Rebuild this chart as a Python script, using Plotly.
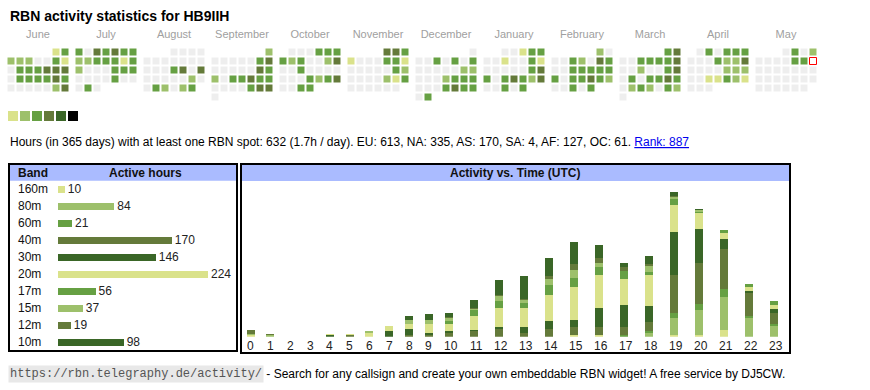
import datetime
import plotly.graph_objects as go

W, H = 870, 390
SANS = "Liberation Sans, Arial, sans-serif"
MONO = "Liberation Mono, Courier New, monospace"

# ---------------- data ----------------
TITLE = "RBN activity statistics for HB9IIH"
month_names = ["June", "July", "August", "September", "October", "November",
               "December", "January", "February", "March", "April", "May"]
month_years = [2024, 2024, 2024, 2024, 2024, 2024, 2024, 2025, 2025, 2025, 2025, 2025]
month_numbers = [6, 7, 8, 9, 10, 11, 12, 1, 2, 3, 4, 5]

# activity level per day (0 = none, 1..5 = colour level, T = today)
days_jun = "13" "2220031" "0333444" "0333343" "0000024"
days_jul = "3043433" "2233313" "2000333" "0000300" "030"
days_aug = "0000" "0000000" "0003404" "0000020" "032023"
days_sep = "2" "0000034" "0000043" "2033433" "0000344" "0"
days_oct = "000333" "3230024" "0030000" "0003234" "0033"
days_nov = "443" "1000331" "0000032" "0000213" "000000"
days_dec = "0" "0030303" "0000022" "0002333" "0003433" "03"
days_jan = "00133" "0010031" "0000034" "3034324" "00303"
days_feb = "20" "0032043" "0033333" "3033432" "00303"
days_mar = "34" "0033334" "0020034" "0303343" "0232032" "0"
days_apr = "030333" "0003224" "0000222" "0011321" "000"
days_may = "0302" "000033T" "0000000" "0000000" "000000"
month_days = [days_jun, days_jul, days_aug, days_sep, days_oct, days_nov,
              days_dec, days_jan, days_feb, days_mar, days_apr, days_may]

level_colors = ["#eeeeee", "#dae28b", "#9dc06b", "#66a043", "#647a3a", "#3a6627", "#000000"]
legend_levels = [1, 2, 3, 4, 5, 6]

INFO = ("Hours (in 365 days) with at least one RBN spot: 632 (1.7h / day). "
        "EU: 613, NA: 335, AS: 170, SA: 4, AF: 127, OC: 61. ")
RANK = "Rank: 887"

bands = ["160m", "80m", "60m", "40m", "30m", "20m", "17m", "15m", "12m", "10m"]
band_hours = [10, 84, 21, 170, 146, 224, 56, 37, 19, 98]
band_levels = [1, 2, 3, 4, 5, 1, 3, 2, 4, 5]

hour_labels = [str(h) for h in range(24)]
hours_by_band = {
    "160m": [1, 0, 0, 0, 0, 0, 0, 0, 0, 0, 0, 0, 0, 0, 0, 1, 1, 0, 0, 1, 1, 5, 0, 0],
    "80m":  [1, 1, 0, 0, 0, 0, 0, 0, 0, 0, 0, 0, 0, 0, 0, 0, 0, 0, 3, 13, 19, 25, 14, 8],
    "60m":  [0, 0, 0, 0, 0, 0, 0, 0, 0, 0, 0, 0, 0, 0, 0, 0, 0, 1, 1, 4, 5, 6, 2, 2],
    "40m":  [3, 1, 0, 0, 0, 1, 0, 0, 1, 1, 3, 4, 6, 3, 6, 6, 6, 6, 7, 29, 31, 31, 17, 8],
    "30m":  [0, 0, 0, 0, 1, 0, 0, 4, 5, 2, 1, 1, 1, 4, 6, 6, 15, 17, 12, 33, 26, 7, 2, 3],
    "20m":  [0, 0, 0, 0, 1, 1, 3, 4, 4, 7, 6, 11, 15, 15, 20, 25, 25, 20, 24, 20, 12, 5, 3, 3],
    "17m":  [0, 0, 0, 0, 0, 0, 0, 0, 0, 0, 2, 4, 5, 4, 7, 7, 6, 6, 2, 5, 1, 2, 2, 3],
    "15m":  [0, 0, 0, 0, 0, 0, 1, 0, 3, 3, 2, 1, 4, 2, 5, 6, 3, 0, 5, 1, 1, 0, 0, 0],
    "12m":  [0, 0, 0, 0, 0, 0, 0, 0, 0, 0, 1, 1, 1, 1, 2, 4, 4, 3, 1, 1, 0, 0, 0, 0],
    "10m":  [0, 0, 0, 0, 0, 0, 0, 0, 3, 4, 3, 6, 11, 17, 14, 17, 10, 3, 6, 3, 1, 0, 0, 0],
}

FOOT_URL = "https://rbn.telegraphy.de/activity/"
FOOT_TEXT = " - Search for any callsign and create your own embeddable RBN widget! A free service by DJ5CW."


# ---------------- helpers ----------------
def px(x):
    return x / W


def py(y):
    return 1 - y / H


# ---------------- calendar (pixel axes) ----------------
X0, Y0, BLOCK, PITCH = 11, 52, 68, 9
cx, cy, ccol, clc, clw = [], [], [], [], []
for m, (yr, mo, s) in enumerate(zip(month_years, month_numbers, month_days)):
    first = datetime.date(yr, mo, 1).weekday()
    for d, ch in enumerate(s):
        idx = first + d
        cx.append(X0 + m * BLOCK + (idx % 7) * PITCH)
        cy.append(Y0 + (idx // 7) * PITCH)
        if ch == "T":
            ccol.append("#ffffff")
            clc.append("#ff0000")
            clw.append(1)
        else:
            ccol.append(level_colors[int(ch)])
            clc.append("rgba(0,0,0,0)")
            clw.append(0)

fig = go.Figure()
fig.add_trace(go.Scatter(
    x=cx, y=cy, mode="markers", xaxis="x", yaxis="y", hoverinfo="skip",
    marker=dict(symbol="square", size=7, color=ccol, line=dict(color=clc, width=clw)),
    showlegend=False))

fig.add_trace(go.Scatter(
    x=[X0 + m * BLOCK + 3 * PITCH for m in range(len(month_names))],
    y=[35] * len(month_names), text=month_names, mode="text",
    textfont=dict(family=SANS, size=11, color="#a0a0a0"),
    xaxis="x", yaxis="y", hoverinfo="skip", showlegend=False))

fig.add_trace(go.Scatter(
    x=[13 + 12 * i for i in range(len(legend_levels))], y=[116] * len(legend_levels),
    mode="markers", xaxis="x", yaxis="y", hoverinfo="skip", showlegend=False,
    marker=dict(symbol="square", size=10, color=[level_colors[l] for l in legend_levels],
                line=dict(width=0))))

# ---------------- band table bars ----------------
fig.add_trace(go.Bar(
    x=band_hours, y=list(range(len(bands))), orientation="h", xaxis="x2", yaxis="y2",
    width=0.41, marker=dict(color=[level_colors[l] for l in band_levels], line=dict(width=0)),
    text=[str(v) for v in band_hours], textposition="outside", constraintext="none",
    textfont=dict(family=SANS, size=12, color="#222222"), cliponaxis=False,
    hoverinfo="skip", showlegend=False))

# ---------------- activity vs time ----------------
cell_w = [19.8 if len(l) == 1 else 25.0 for l in hour_labels]
lefts = []
acc = 240.7
for w in cell_w:
    lefts.append(acc)
    acc += w
bar_x = [l + 9.9 for l in lefts]
label_x = [l + w / 2 for l, w in zip(lefts, cell_w)]

for b, lev in zip(bands, band_levels):
    fig.add_trace(go.Bar(
        x=bar_x, y=hours_by_band[b], width=8, xaxis="x3", yaxis="y3",
        marker=dict(color=level_colors[lev], line=dict(width=0)),
        hoverinfo="skip", showlegend=False))

PX_PER_UNIT = 1.315
BASE = 336.7
TOP3 = 181

# ---------------- layout ----------------
ax_off = dict(visible=False, fixedrange=True)
fig.update_layout(
    width=W, height=H, margin=dict(l=0, r=0, t=0, b=0),
    paper_bgcolor="white", plot_bgcolor="rgba(0,0,0,0)",
    barmode="stack", bargap=0,
    xaxis=dict(domain=[0, 1], range=[0, W], **ax_off),
    yaxis=dict(domain=[0, 1], range=[H, 0], anchor="x", **ax_off),
    xaxis2=dict(domain=[px(58), px(208)], range=[0, max(band_hours)], anchor="y2", **ax_off),
    yaxis2=dict(domain=[py(350.8), py(180.8)], range=[len(bands) - 0.5, -0.5], anchor="x2", **ax_off),
    xaxis3=dict(domain=[0, 1], range=[0, W], anchor="y3", **ax_off),
    yaxis3=dict(domain=[py(BASE), py(TOP3)], range=[0, (BASE - TOP3) / PX_PER_UNIT], anchor="x3", **ax_off),
)

shapes = [
    dict(type="rect", xref="paper", yref="paper", x0=px(10), x1=px(237), y0=py(180.7), y1=py(165),
         fillcolor="#aabbff", line=dict(width=0), layer="below"),
    dict(type="rect", xref="paper", yref="paper", x0=px(242), x1=px(789), y0=py(181), y1=py(165),
         fillcolor="#aabbff", line=dict(width=0), layer="below"),
    dict(type="rect", xref="paper", yref="paper", x0=px(9), x1=px(237), y0=py(351), y1=py(164),
         line=dict(color="black", width=2)),
    dict(type="rect", xref="paper", yref="paper", x0=px(241), x1=px(790), y0=py(353), y1=py(164),
         line=dict(color="black", width=2)),
]
fig.update_layout(shapes=shapes)

ann = [
    dict(text="<b>" + TITLE + "</b>", x=px(8), y=py(16), font=dict(family=SANS, size=14, color="black")),
    dict(text=INFO + '<span style="color:#0000ee;text-decoration:underline">' + RANK + "</span>",
         x=px(8), y=py(142), font=dict(family=SANS, size=12, color="black")),
    dict(text="<b>Band</b>", x=px(16), y=py(172.8), font=dict(family=SANS, size=12, color="#111111")),
    dict(text="<b>Active hours</b>", x=px(145), y=py(172.8), xanchor="center",
         font=dict(family=SANS, size=12, color="#111111")),
    dict(text="<b>Activity vs. Time (UTC)</b>", x=px(515), y=py(172.8), xanchor="center",
         font=dict(family=SANS, size=12, color="#111111")),
    dict(text=FOOT_URL, x=px(8), y=py(374), bgcolor="#e8e8e8", borderpad=1,
         font=dict(family=MONO, size=12, color="#555555")),
    dict(text=FOOT_TEXT, x=px(261), y=py(374), font=dict(family=SANS, size=12, color="black")),
]
for i, b in enumerate(bands):
    ann.append(dict(text=b, x=px(16), xref="paper", y=i, yref="y2",
                    font=dict(family=SANS, size=12, color="#111111")))
for lx, lab in zip(label_x, hour_labels):
    ann.append(dict(text=lab, x=lx, xref="x3", y=py(346), xanchor="center",
                    font=dict(family=SANS, size=12, color="#222222")))
for a in ann:
    a.setdefault("xref", "paper")
    a.setdefault("yref", "paper")
    a.setdefault("xanchor", "left")
    a.setdefault("yanchor", "middle")
    a.setdefault("showarrow", False)
fig.update_layout(annotations=ann)

fig.write_html("out.html", config={"displayModeBar": False, "staticPlot": True},
               post_script="document.body.style.margin='0';document.body.style.overflow='hidden';")
